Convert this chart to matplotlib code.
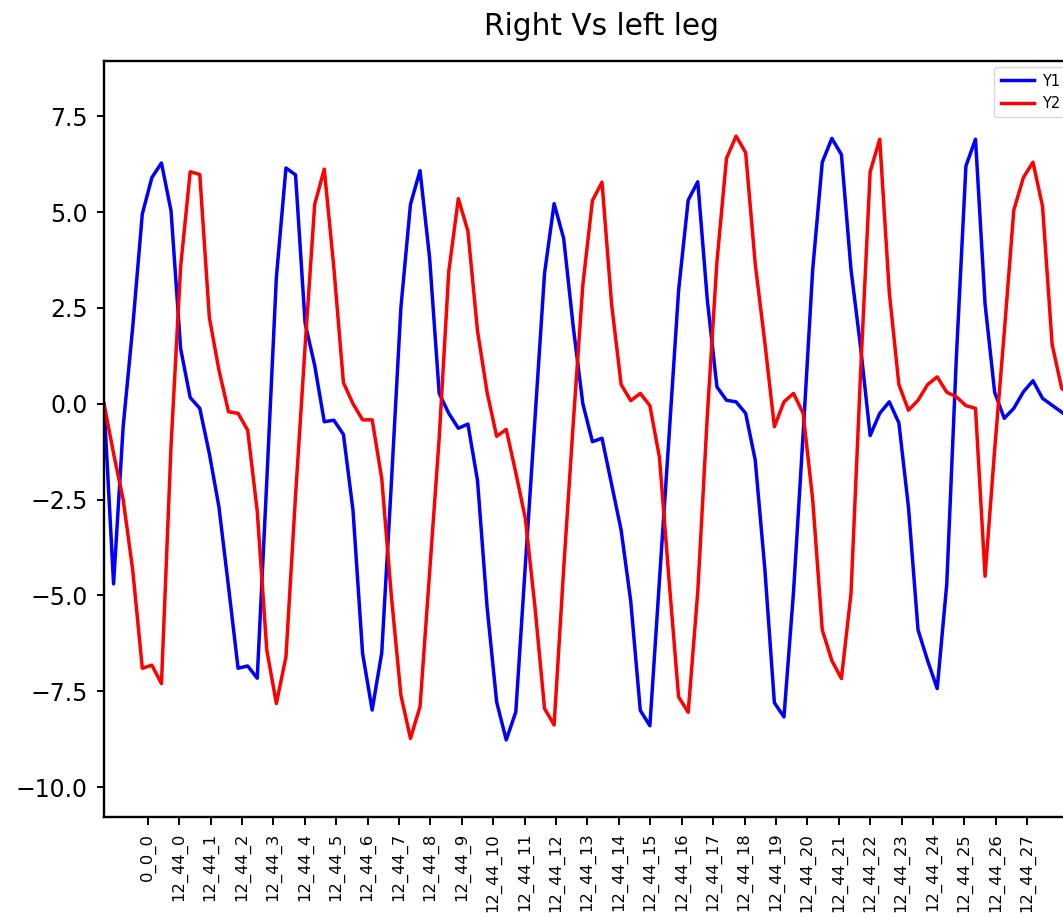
import matplotlib
matplotlib.use('Agg')
import matplotlib.pyplot as plt
import numpy as np

# readings of the two leg signals, one value per sample
y1 = [0.0, -4.7, -0.6, 2.0, 4.95, 5.9, 6.28, 5.03, 1.44, 0.16,
      -0.12, -1.3, -2.69, -4.77, -6.9, -6.84, -7.16, -2.0, 3.3, 6.15,
      5.97, 2.1, 1.0, -0.47, -0.43, -0.8, -2.78, -6.51, -7.99, -6.5,
      -2.1, 2.5, 5.2, 6.08, 3.8, 0.27, -0.25, -0.64, -0.53, -2.0,
      -5.3, -7.78, -8.77, -8.04, -4.2, -0.4, 3.4, 5.22, 4.31, 2.0,
      0.0, -0.99, -0.9, -2.1, -3.3, -5.15, -8.0, -8.4, -4.6, -0.85,
      2.96, 5.31, 5.79, 2.7, 0.44, 0.09, 0.05, -0.25, -1.47, -4.3,
      -7.8, -8.17, -4.9, -0.8, 3.5, 6.3, 6.92, 6.5, 3.5, 1.48,
      -0.83, -0.25, 0.05, -0.5, -2.7, -5.9, -6.7, -7.43, -4.7, 1.2,
      6.2, 6.9, 2.6, 0.3, -0.38, -0.12, 0.31, 0.6, 0.14, -0.04,
      -0.22, -0.4]

y2 = [0.0, -1.3, -2.5, -4.34, -6.9, -6.82, -7.3, -1.1, 3.57, 6.05,
      5.98, 2.25, 0.88, -0.21, -0.25, -0.69, -2.8, -6.43, -7.82, -6.6,
      -2.4, 1.5, 5.2, 6.12, 3.55, 0.55, 0.0, -0.42, -0.42, -1.95,
      -5.0, -7.6, -8.73, -7.9, -4.4, -0.9, 3.45, 5.35, 4.5, 1.9,
      0.3, -0.85, -0.67, -1.8, -3.0, -5.3, -7.95, -8.38, -4.3, -0.5,
      3.1, 5.3, 5.78, 2.6, 0.5, 0.08, 0.27, -0.05, -1.4, -4.6,
      -7.65, -8.05, -4.9, -0.3, 3.7, 6.4, 6.98, 6.55, 3.65, 1.6,
      -0.6, 0.05, 0.27, -0.25, -2.5, -5.9, -6.7, -7.17, -4.95, 0.8,
      6.05, 6.9, 2.9, 0.5, -0.17, 0.09, 0.5, 0.7, 0.3, 0.18,
      -0.05, -0.12, -4.5, -1.2, 1.85, 5.05, 5.9, 6.3, 5.15, 1.55,
      0.4, 0.2]

tick_labels = ['0_0_0'] + ['12_44_%d' % i for i in range(28)]

W, H = 1063, 918
fig = plt.figure(figsize=(W / 100, H / 100), dpi=100)
# the plot area runs past the right edge of the image, as in the original
ax = fig.add_axes([104 / W, (H - 817) / H, (1100 - 104) / W, (817 - 61) / H])

x = np.arange(len(y1))
ax.plot(x, y1, color='blue', lw=2.5, label='Y1')
ax.plot(x, y2, color='red', lw=2.5, label='Y2')

ax.set_xlim(0, 104)
ax.set_ylim(-10.78, 8.94)
ax.set_yticks(np.arange(-10, 8, 2.5))

# one label roughly every 3.28 samples
ax.set_xticks(np.linspace(4.57, 96.4, len(tick_labels)))
ax.set_xticklabels(tick_labels, rotation=90, fontsize=11.8)

ax.tick_params(axis='y', labelsize=17, length=5.4, width=1.4, pad=6.5)
ax.tick_params(axis='x', length=5.4, width=1.4, pad=6)
for s in ax.spines.values():
    s.set_linewidth(1.7)

ax.set_title('Right Vs left leg', fontsize=21.3, pad=19)

ax.legend(loc='upper left', bbox_to_anchor=(994 / W, 1 - 67 / H),
          bbox_transform=fig.transFigure, borderaxespad=0,
          fontsize=10.5, handlelength=2.3, handletextpad=0.55,
          borderpad=0.45)

fig.savefig('out.png', dpi=100)
